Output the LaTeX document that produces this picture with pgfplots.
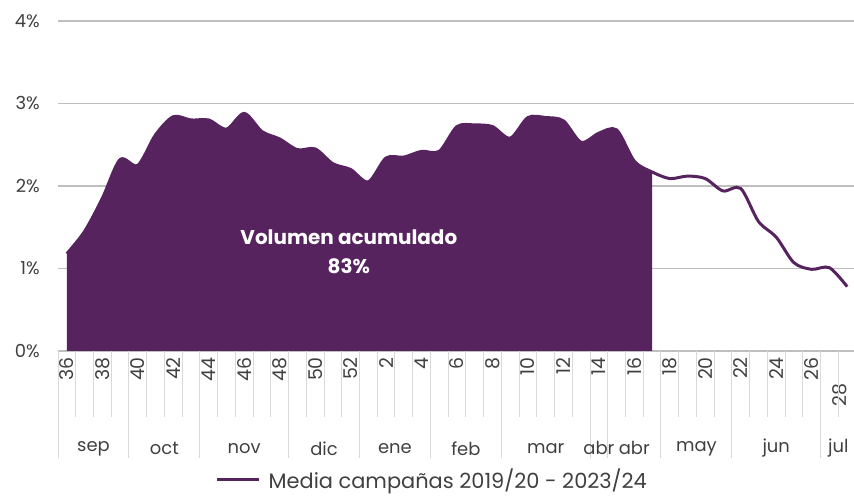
\documentclass[border=0pt]{standalone}
\usepackage{pgfplots}
\pgfplotsset{compat=1.18}
\usepackage{pgfplotstable}
\usepackage{fontspec}
\setmainfont{Poppins}
\definecolor{purp}{HTML}{56235F}
\definecolor{txt}{HTML}{404040}
\definecolor{gridc}{HTML}{BFBFBF}
\definecolor{sepc}{HTML}{D9D9D9}

\pgfplotstableread{
i v
0 1.18
1 1.45
2 1.85
3 2.32
4 2.25
5 2.62
6 2.84
7 2.80
8 2.80
9 2.69
10 2.88
11 2.66
12 2.57
13 2.44
14 2.45
15 2.27
16 2.20
17 2.05
18 2.34
19 2.35
20 2.42
21 2.42
22 2.72
23 2.74
24 2.72
25 2.58
26 2.83
27 2.83
28 2.79
29 2.53
30 2.64
31 2.68
32 2.30
33 2.17
34 2.09
35 2.12
36 2.09
37 1.94
38 1.97
39 1.57
40 1.38
41 1.07
42 0.99
43 1.01
44 0.78
}\data

\begin{document}
\begin{tikzpicture}[x=1bp,y=1bp]
\useasboundingbox (0,0) rectangle (854,499);
\begin{axis}[
  at={(58bp,148bp)}, anchor=south west,
  scale only axis, width=798bp, height=330bp,
  xmin=-0.5, xmax=44.5, ymin=0, ymax=4,
  clip=false,
  axis line style={draw=none},
  major tick length=0pt,
  ytick={0,1,2,3,4},
  yticklabels={0\%,1\%,2\%,3\%,4\%},
  ymajorgrids,
  grid style={gridc, line width=1.3bp},
  yticklabel style={font=\fontsize{18}{18}\selectfont, text=txt, inner sep=0pt, xshift=-18bp},
  xtick={0,2,...,44},
  xticklabels={36,38,40,42,44,46,48,50,52,2,4,6,8,10,12,14,16,18,20,22,24,26,{\raisebox{15bp}{28}\hspace*{26bp}}},
  xticklabel style={font=\fontsize{19}{19}\selectfont, text=txt, rotate=90, anchor=east, inner xsep=6bp, inner ysep=0pt},
  legend style={draw=none, fill=none, at={(0.469,-0.39)}, anchor=center,
    font=\fontsize{21}{21}\selectfont, text=txt},
  legend image code/.code={\draw[#1] (0bp,0bp) -- (42bp,0bp); \path (48bp,0bp);},
]
\pgfplotsinvokeforeach{-0.5,0.5,...,44.5}{\draw[sepc, line width=1bp] (axis cs:#1,0) -- (axis cs:#1,-0.8);}
\pgfplotsinvokeforeach{-0.5,3.5,7.5,12.5,16.5,20.5,24.5,29.5,30.5,33.5,37.5,42.5}{\draw[sepc, line width=1bp] (axis cs:#1,0) -- (axis cs:#1,-1.3);}

\addplot[forget plot, fill=purp, draw=none, smooth, restrict x to domain=0:33] table[x=i, y=v] {\data} \closedcycle;
\addplot[purp, line width=3bp, smooth] table[x=i, y=v] {\data};
\addlegendentry{Media campañas 2019/20 - 2023/24}

\begin{scope}[every node/.style={font=\fontsize{18}{18}\selectfont, text=txt}]
\node at (axis cs:1.5,-1.18) {sep};
\node at (axis cs:5.5,-1.18) {oct};
\node at (axis cs:10,-1.18) {nov};
\node at (axis cs:14.5,-1.18) {dic};
\node at (axis cs:18.5,-1.18) {ene};
\node at (axis cs:22.5,-1.18) {feb};
\node at (axis cs:27,-1.18) {mar};
\node at (axis cs:30,-1.18) {abr};
\node at (axis cs:32,-1.18) {abr};
\node at (axis cs:35.5,-1.18) {may};
\node at (axis cs:40,-1.18) {jun};
\node at (axis cs:43.5,-1.18) {jul};
\end{scope}
\node[text=white, font=\bfseries\fontsize{20}{29}\selectfont, align=center] at (axis cs:15.9,1.2) {Volumen acumulado\\83\%};
\end{axis}
\end{tikzpicture}
\end{document}
